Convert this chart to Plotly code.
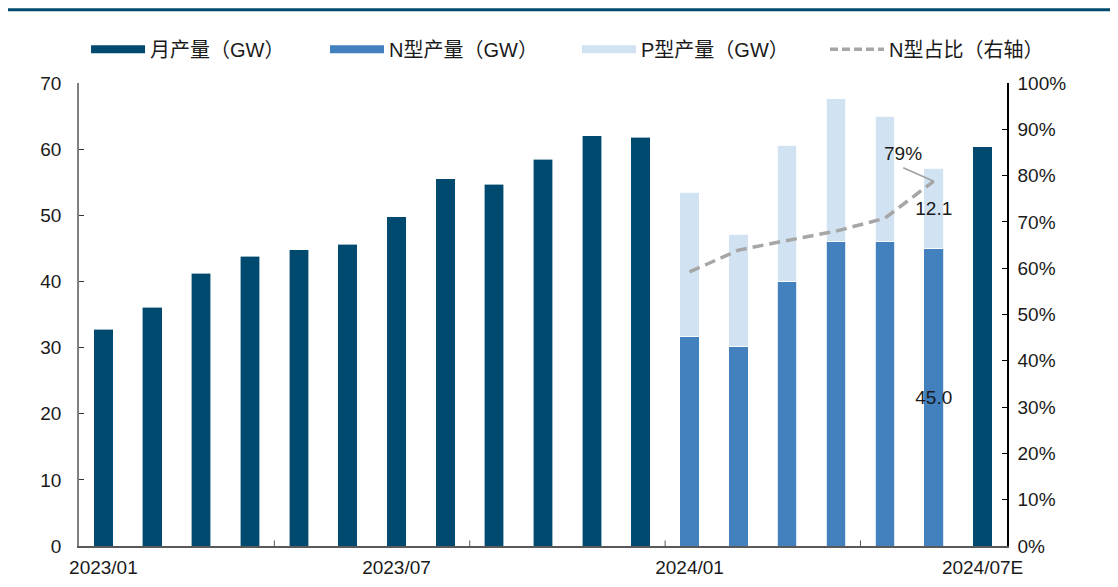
import plotly.graph_objects as go

months = ["2023/01", "2023/02", "2023/03", "2023/04", "2023/05", "2023/06",
          "2023/07", "2023/08", "2023/09", "2023/10", "2023/11", "2023/12",
          "2024/01", "2024/02", "2024/03", "2024/04", "2024/05", "2024/06",
          "2024/07E"]
tick_labels = ["2023/01", "2023/07", "2024/01", "2024/07E"]

monthly_output = [32.8, 36.1, 41.2, 43.8, 44.8, 45.6, 49.8, 55.5, 54.7, 58.5,
                  62.0, 61.8, None, None, None, None, None, None, 60.4]
n_output = [None] * 12 + [31.7, 30.1, 40.0, 46.0, 46.0, 45.0, None]
p_output = [None] * 12 + [21.8, 17.0, 20.6, 21.6, 19.0, 12.1, None]
n_share = [None] * 12 + [0.592, 0.639, 0.660, 0.680, 0.708, 0.788, None]

n_text = [""] * 17 + ["45.0", ""]
p_text = [""] * 17 + ["12.1", ""]

C_DARK = "#004A6F"
C_N = "#4380BE"
C_P = "#D1E3F3"
C_LINE = "#A6A6A6"
FONT = "Liberation Sans, Arial, Noto Sans CJK SC, sans-serif"
TXT = "#1a1a1a"

fig = go.Figure()

fig.add_trace(go.Bar(x=months, y=monthly_output, name="月产量（GW）",
                     marker=dict(color=C_DARK, line=dict(color="white", width=0.6)),
                     showlegend=False))
fig.add_trace(go.Bar(x=months, y=n_output, name="N型产量（GW）",
                     marker=dict(color=C_N, line=dict(color="white", width=0.8)),
                     text=n_text, textposition="inside", insidetextanchor="middle",
                     constraintext="none", textangle=0,
                     textfont=dict(color=TXT, size=19, family=FONT),
                     showlegend=False))
fig.add_trace(go.Bar(x=months, y=p_output, name="P型产量（GW）",
                     marker=dict(color=C_P, line=dict(color="white", width=0.8)),
                     text=p_text, textposition="inside", insidetextanchor="middle",
                     constraintext="none", textangle=0,
                     textfont=dict(color=TXT, size=19, family=FONT),
                     showlegend=False))
fig.add_trace(go.Scatter(x=months, y=n_share, name="N型占比（右轴）", yaxis="y2",
                         mode="lines", line=dict(color=C_LINE, width=3.5, dash="11px,6px"),
                         showlegend=False))

# legend entries (Excel-style long swatches), one legend each for exact placement
fig.add_trace(go.Scatter(x=[None], y=[None], mode="lines", name="月产量（GW）",
                         line=dict(color=C_DARK, width=8), legend="legend"))
fig.add_trace(go.Scatter(x=[None], y=[None], mode="lines", name="N型产量（GW）",
                         line=dict(color=C_N, width=8), legend="legend2"))
fig.add_trace(go.Scatter(x=[None], y=[None], mode="lines", name="P型产量（GW）",
                         line=dict(color=C_P, width=8), legend="legend3"))
fig.add_trace(go.Scatter(x=[None], y=[None], mode="lines", name="N型占比（右轴）",
                         line=dict(color=C_LINE, width=3.5, dash="8px,4px"), legend="legend4"))

# annotation 79%
fig.add_annotation(x=months[17], y=n_share[17], yref="y2", text="", showarrow=True,
                   arrowhead=0, arrowwidth=1.6, arrowcolor="#A0A0A0", ax=-32, ay=-14)
fig.add_annotation(x=months[17], y=n_share[17], yref="y2", text="79%", showarrow=False,
                   xshift=-31, yshift=28, font=dict(size=19, color=TXT, family=FONT))

shapes = [dict(type="line", xref="paper", yref="paper", x0=-0.077, x1=1.112, y0=1.158, y1=1.158,
               line=dict(color="#004A6F", width=3))]
for b in [3.5, 7.5, 11.5, 15.5]:
    shapes.append(dict(type="line", xref="x", yref="paper", x0=b, x1=b, y0=0, y1=0.012,
                       line=dict(color="#595959", width=1)))
fig.update_layout(shapes=shapes)

def leg(xpos):
    return dict(orientation="h", x=xpos, y=1.073, xanchor="left", yanchor="middle",
                xref="container", itemwidth=54, bgcolor="rgba(0,0,0,0)",
                font=dict(size=20, color=TXT, family=FONT))

fig.update_layout(
    width=1110, height=579,
    margin=dict(l=71, r=111, t=75, b=41, autoexpand=False),
    paper_bgcolor="white", plot_bgcolor="white",
    barmode="stack", bargap=0.6,
    font=dict(family=FONT, size=19, color=TXT),
    legend=leg(0.0703), legend2=leg(0.2856), legend3=leg(0.5126), legend4=leg(0.736),
    xaxis=dict(type="category", tickmode="array", tickvals=tick_labels, ticktext=tick_labels,
               ticks="", showgrid=False, showline=True, linecolor="#595959", linewidth=1.5,
               tickfont=dict(size=19, color=TXT), ticklabelstandoff=3, range=[-0.5, 18.5]),
    yaxis=dict(range=[0, 70], dtick=10, ticks="inside", ticklen=5, tickcolor="#333333",
               showgrid=False, showline=True, linecolor="#808080", linewidth=1.5,
               zeroline=False, tickfont=dict(size=19, color=TXT), ticklabelstandoff=12),
    yaxis2=dict(range=[0, 1], dtick=0.1, tickformat=".0%", overlaying="y", side="right",
                ticks="inside", ticklen=5, tickcolor="#000000", showgrid=False,
                showline=True, linecolor="#000000", linewidth=1.5, zeroline=False,
                tickfont=dict(size=19, color=TXT), ticklabelstandoff=5),
)

fig.write_html("out.html")
